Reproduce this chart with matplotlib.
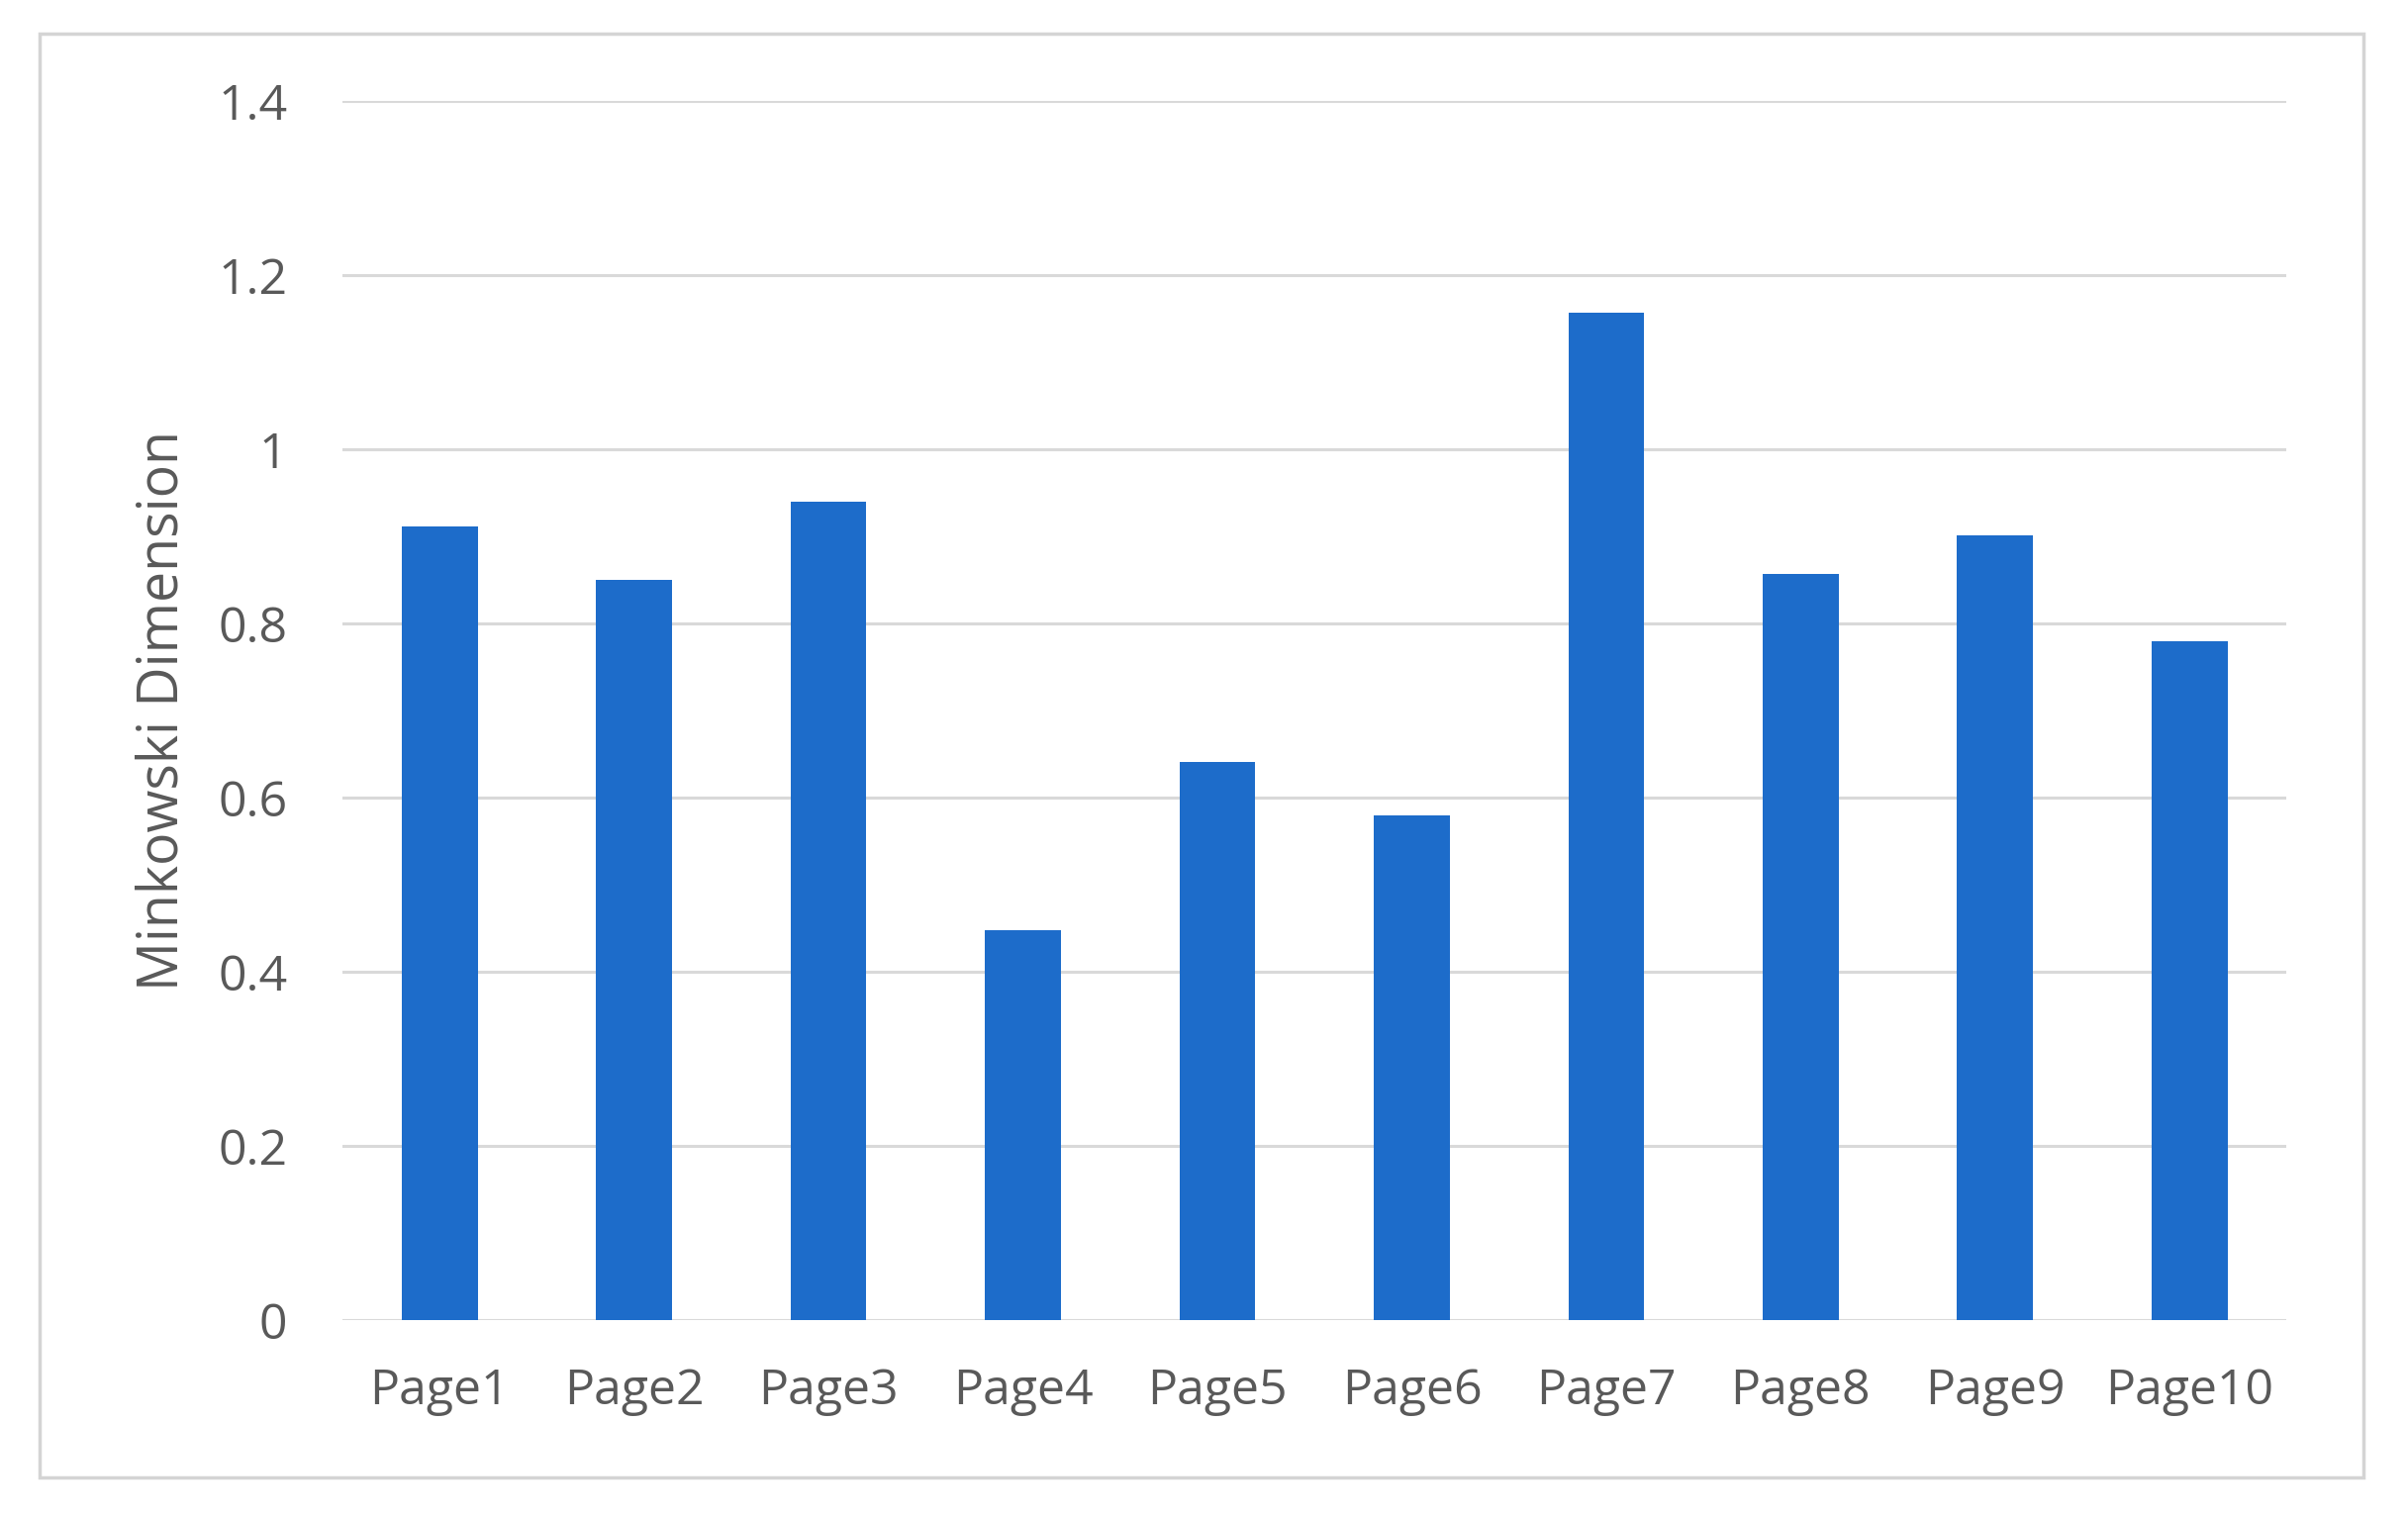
import matplotlib
matplotlib.use("Agg")
import matplotlib.pyplot as plt
from matplotlib.patches import Rectangle

categories = ["Page1", "Page2", "Page3", "Page4", "Page5",
              "Page6", "Page7", "Page8", "Page9", "Page10"]
values = [0.912, 0.851, 0.940, 0.448, 0.641, 0.580, 1.157, 0.857, 0.902, 0.780]
yticks = [0, 0.2, 0.4, 0.6, 0.8, 1.0, 1.2, 1.4]
ytick_labels = ["0", "0.2", "0.4", "0.6", "0.8", "1", "1.2", "1.4"]

plt.rcParams['font.family'] = ['Open Sans', 'DejaVu Sans']

fig = plt.figure(figsize=(24.33, 15.33), dpi=100)
fig.patch.set_facecolor('white')

# outer light border
fig.patches.append(Rectangle((26/1568, 1-962/988), (1539-26)/1568, (962-22)/988,
                             transform=fig.transFigure, fill=False,
                             edgecolor='#d4d4d4', linewidth=2.5))

ax = fig.add_axes([223/1568, 1-860/988, (1489-223)/1568, (860-66)/988])
x = list(range(len(categories)))
ax.bar(x, values, width=0.39, color='#1d6cca', zorder=3)
ax.set_xlim(-0.5, len(categories) - 0.5)
ax.set_ylim(0, 1.4)
ax.set_yticks(yticks)
ax.set_yticklabels(ytick_labels)
ax.set_xticks(x)
ax.set_xticklabels(categories)
ax.yaxis.grid(True, color='#d9d9d9', linewidth=2.2, zorder=0)
ax.set_axisbelow(True)
for s in ax.spines.values():
    s.set_visible(False)
ax.tick_params(axis='both', length=0, labelsize=36, labelcolor='#595959')
ax.tick_params(axis='y', pad=40)
ax.tick_params(axis='x', pad=34)
ax.set_ylabel("Minkowski Dimension", fontsize=40, color='#595959')
ax.yaxis.set_label_coords(-0.0774, 0.5)

fig.savefig("out.png", dpi=100, facecolor='white')
